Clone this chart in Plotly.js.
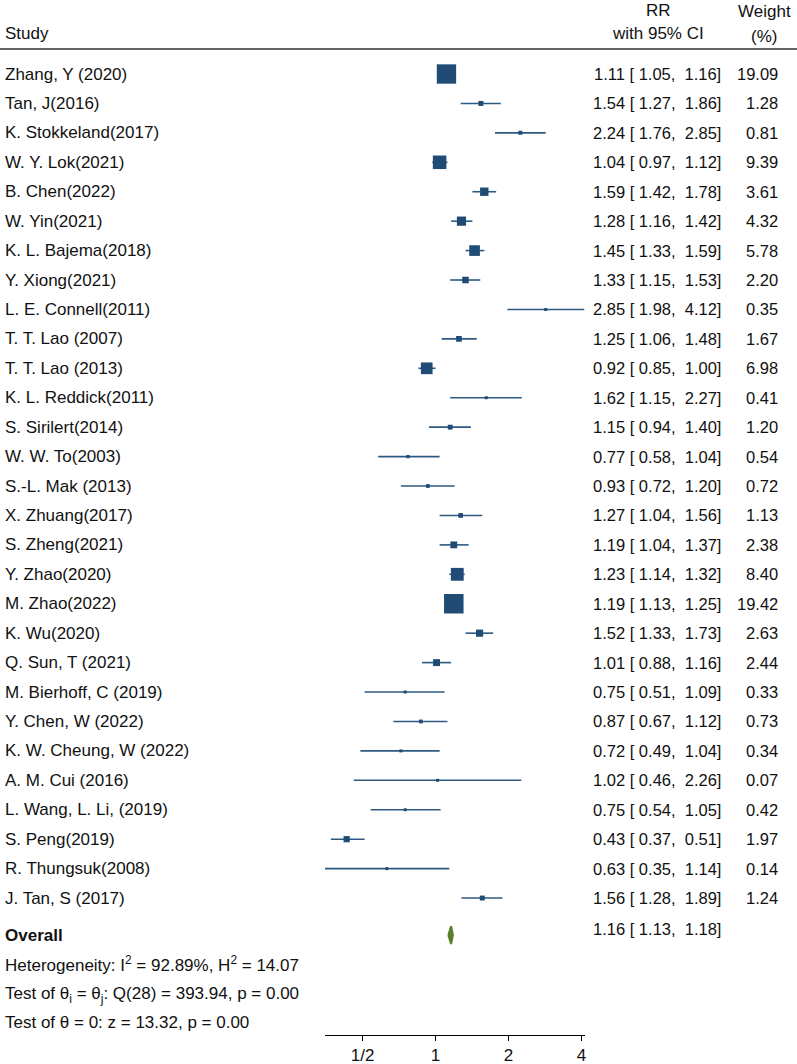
<!DOCTYPE html>
<html>
<head>
<meta charset="utf-8">
<script src="https://cdn.plot.ly/plotly-3.0.1.min.js"></script>
<style>html,body{margin:0;padding:0;background:#fff;}</style>
</head>
<body>
<div id="chart" style="width:797px;height:1064px;"></div>
<script>
const studies = ["Zhang, Y (2020)","Tan, J(2016)","K. Stokkeland(2017)","W. Y. Lok(2021)","B. Chen(2022)","W. Yin(2021)","K. L. Bajema(2018)","Y. Xiong(2021)","L. E. Connell(2011)","T. T. Lao (2007)","T. T. Lao (2013)","K. L. Reddick(2011)","S. Sirilert(2014)","W. W. To(2003)","S.-L. Mak (2013)","X. Zhuang(2017)","S. Zheng(2021)","Y. Zhao(2020)","M. Zhao(2022)","K. Wu(2020)","Q. Sun, T (2021)","M. Bierhoff, C (2019)","Y. Chen, W (2022)","K. W. Cheung, W (2022)","A. M. Cui (2016)","L. Wang, L. Li, (2019)","S. Peng(2019)","R. Thungsuk(2008)","J. Tan, S (2017)"];
const rr    = [1.11,1.54,2.24,1.04,1.59,1.28,1.45,1.33,2.85,1.25,0.92,1.62,1.15,0.77,0.93,1.27,1.19,1.23,1.19,1.52,1.01,0.75,0.87,0.72,1.02,0.75,0.43,0.63,1.56];
const lower = [1.05,1.27,1.76,0.97,1.42,1.16,1.33,1.15,1.98,1.06,0.85,1.15,0.94,0.58,0.72,1.04,1.04,1.14,1.13,1.33,0.88,0.51,0.67,0.49,0.46,0.54,0.37,0.35,1.28];
const upper = [1.16,1.86,2.85,1.12,1.78,1.42,1.59,1.53,4.12,1.48,1.00,2.27,1.40,1.04,1.20,1.56,1.37,1.32,1.25,1.73,1.16,1.09,1.12,1.04,2.26,1.05,0.51,1.14,1.89];
const weight = [19.09,1.28,0.81,9.39,3.61,4.32,5.78,2.20,0.35,1.67,6.98,0.41,1.20,0.54,0.72,1.13,2.38,8.40,19.42,2.63,2.44,0.33,0.73,0.34,0.07,0.42,1.97,0.14,1.24];
const overall = {rr: 1.16, lower: 1.13, upper: 1.18};
const tickVals = [0.5, 1, 2, 4];
const tickText = ["1/2", "1", "2", "4"];
const heterogeneityText = "Heterogeneity: I<sup>2</sup> = 92.89%, H<sup>2</sup> = 14.07";
const testQText = "Test of θ<sub>i</sub> = θ<sub>j</sub>: Q(28) = 393.94, p = 0.00";
const testZText = "Test of θ = 0: z = 13.32, p = 0.00";

const W = 797, H = 1064;
const rowY = studies.map((s, i) => i);
const overallRow = 29.26;
const py = p => 1 - p / H;
const px = p => p / W;
const fmt = v => v.toFixed(2);
const NB = "\u00a0";
const ciText = (e, l, u) => fmt(e) + " [" + NB + fmt(l) + "," + NB + NB + fmt(u) + "]";

const blue = "#1f4b75";
const font = "Liberation Sans, Arial, sans-serif";

const ciTrace = {
  type: "scatter", mode: "markers",
  x: rr, y: rowY,
  marker: {symbol: "square", color: blue, opacity: 1, size: weight.map(w => Math.max(3, 19.5 * Math.sqrt(w / 19.42))), line: {width: 0}},
  error_x: {type: "data", symmetric: false,
    array: rr.map((v, i) => upper[i] - v),
    arrayminus: rr.map((v, i) => v - lower[i]),
    width: 0, thickness: 1.6, color: "#2c5a82"},
  hoverinfo: "skip", showlegend: false
};
const dh = 0.3;
const diamond = {
  type: "scatter", mode: "lines", fill: "toself",
  x: [overall.lower, overall.rr, overall.upper, overall.rr, overall.lower],
  y: [overallRow, overallRow - dh, overallRow, overallRow + dh, overallRow],
  fillcolor: "#5b7f2b", line: {color: "#5b7f2b", width: 2},
  hoverinfo: "skip", showlegend: false
};

const ann = [];
const baseFont = {family: font, size: 17, color: "#111"};
const numFont = {family: font, size: 16.5, color: "#111"};
ann.push({xref: "paper", yref: "paper", x: px(3), y: py(34), xanchor: "left", yanchor: "middle", text: "Study", showarrow: false, font: baseFont});
ann.push({xref: "paper", yref: "paper", x: px(658), y: py(11), xanchor: "center", yanchor: "middle", text: "RR", showarrow: false, font: baseFont});
ann.push({xref: "paper", yref: "paper", x: px(658), y: py(34), xanchor: "center", yanchor: "middle", text: "with 95% CI", showarrow: false, font: baseFont});
ann.push({xref: "paper", yref: "paper", x: px(764), y: py(12), xanchor: "center", yanchor: "middle", text: "Weight", showarrow: false, font: baseFont});
ann.push({xref: "paper", yref: "paper", x: px(764), y: py(36), xanchor: "center", yanchor: "middle", text: "(%)", showarrow: false, font: baseFont});
studies.forEach((s, i) => {
  ann.push({xref: "paper", yref: "y", x: px(3), y: rowY[i], xanchor: "left", yanchor: "middle", text: s, showarrow: false, font: baseFont});
  ann.push({xref: "paper", yref: "y", x: px(723), y: rowY[i], xanchor: "right", yanchor: "middle", text: ciText(rr[i], lower[i], upper[i]), showarrow: false, font: numFont});
  ann.push({xref: "paper", yref: "y", x: px(780), y: rowY[i], xanchor: "right", yanchor: "middle", text: fmt(weight[i]), showarrow: false, font: numFont});
});
ann.push({xref: "paper", yref: "y", x: px(3), y: overallRow, xanchor: "left", yanchor: "middle", text: "<b>Overall</b>", showarrow: false, font: baseFont});
ann.push({xref: "paper", yref: "y", x: px(723), y: overallRow - 0.2, xanchor: "right", yanchor: "middle", text: ciText(overall.rr, overall.lower, overall.upper), showarrow: false, font: numFont});
ann.push({xref: "paper", yref: "paper", x: px(3), y: py(964), xanchor: "left", yanchor: "middle", text: heterogeneityText, showarrow: false, font: baseFont});
ann.push({xref: "paper", yref: "paper", x: px(3), y: py(995), xanchor: "left", yanchor: "middle", text: testQText, showarrow: false, font: baseFont});
ann.push({xref: "paper", yref: "paper", x: px(3), y: py(1022), xanchor: "left", yanchor: "middle", text: testZText, showarrow: false, font: baseFont});

const yBottomPx = 1035;
const rowStep = 29.43, row0 = 74;
const layout = {
  width: W, height: H,
  margin: {l: 0, r: 0, t: 0, b: 0, pad: 0},
  paper_bgcolor: "#fff", plot_bgcolor: "#fff",
  font: {family: font, size: 16, color: "#111"},
  showlegend: false,
  xaxis: {
    type: "log",
    domain: [325 / W, 584.5 / W],
    range: [Math.log10(0.35), Math.log10(4.12)],
    tickvals: tickVals, ticktext: tickText,
    ticks: "outside", ticklen: 5, tickwidth: 1, tickcolor: "#000",
    showline: true, linecolor: "#000", linewidth: 1,
    showgrid: false, zeroline: false,
    tickfont: {family: font, size: 17, color: "#111"},
    fixedrange: true
  },
  yaxis: {
    domain: [(H - yBottomPx) / H, 1],
    range: [(yBottomPx - row0) / rowStep, -row0 / rowStep],
    showline: false, showgrid: false, zeroline: false, showticklabels: false, ticks: "",
    fixedrange: true
  },
  shapes: [
    {type: "line", xref: "paper", yref: "paper", x0: 0, x1: 1, y0: py(49), y1: py(49), line: {color: "#333", width: 1.6}}
  ],
  annotations: ann
};
Plotly.newPlot("chart", [ciTrace, diamond], layout, {staticPlot: true, displayModeBar: false});
</script>
</body>
</html>
